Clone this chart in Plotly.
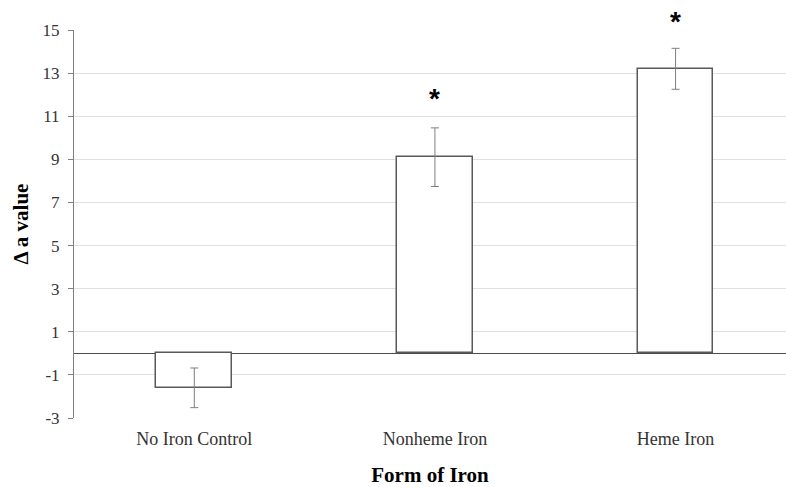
import plotly.graph_objects as go

categories = ["No Iron Control", "Nonheme Iron", "Heme Iron"]
values = [-1.6, 9.1, 13.2]
errors = [0.92, 1.36, 0.95]
sig_labels = ["", "*", "*"]
sig_y = [None, 11.8, 15.4]
y_ticks = [-3, -1, 1, 3, 5, 7, 9, 11, 13, 15]
y_ticktext = ["-3", "-1", "1", "3", "5", "7", "9", "11", "13", "15"]
y_range = [-3, 15]

fig = go.Figure()
fig.add_trace(go.Bar(
    x=[0, 1, 2], y=values,
    width=0.315,
    marker=dict(color="white", line=dict(color="#595959", width=1.5)),
    error_y=dict(type="data", array=errors, visible=True, color="#7f7f7f", thickness=1, width=4),
    showlegend=False,
))

# significance markers (paper-referenced so they can sit above the axis top)
for i, (lab, yy) in enumerate(zip(sig_labels, sig_y)):
    if lab:
        fig.add_annotation(
            x=i, xref="x", y=(yy - y_range[0]) / (y_range[1] - y_range[0]), yref="paper",
            text="<b>" + lab + "</b>", showarrow=False, yanchor="middle",
            font=dict(family="Liberation Sans, Arial", size=28, color="black"),
        )

serif = "Liberation Serif, Times New Roman, serif"
fig.update_layout(
    width=786, height=487,
    margin=dict(l=74, r=0, t=30, b=69),
    plot_bgcolor="white", paper_bgcolor="white",
    font=dict(family=serif, color="#333333"),
    xaxis=dict(
        range=[-0.5, 2.459], tickvals=[0, 1, 2], ticktext=categories,
        showgrid=False, zeroline=False, showline=False, ticks="",
        tickfont=dict(family=serif, size=18, color="#333333"),
        ticklabelstandoff=8,
        title=dict(text="<b>Form of Iron</b>", font=dict(family=serif, size=21, color="black"), standoff=19),
    ),
    yaxis=dict(
        range=y_range, tickvals=y_ticks, ticktext=y_ticktext,
        showgrid=True, gridcolor="#e0e0e0", gridwidth=1,
        zeroline=True, zerolinecolor="#4d4d4d", zerolinewidth=1.3,
        showline=True, linecolor="#808080", linewidth=1,
        ticks="outside", ticklen=5, tickcolor="#808080",
        tickfont=dict(family=serif, size=17, color="#333333"),
        ticklabelstandoff=5,
        title=dict(text="<b>Δ a value</b>", font=dict(family=serif, size=21, color="black"), standoff=8),
    ),
    bargap=0,
)

fig.write_html("out.html")
